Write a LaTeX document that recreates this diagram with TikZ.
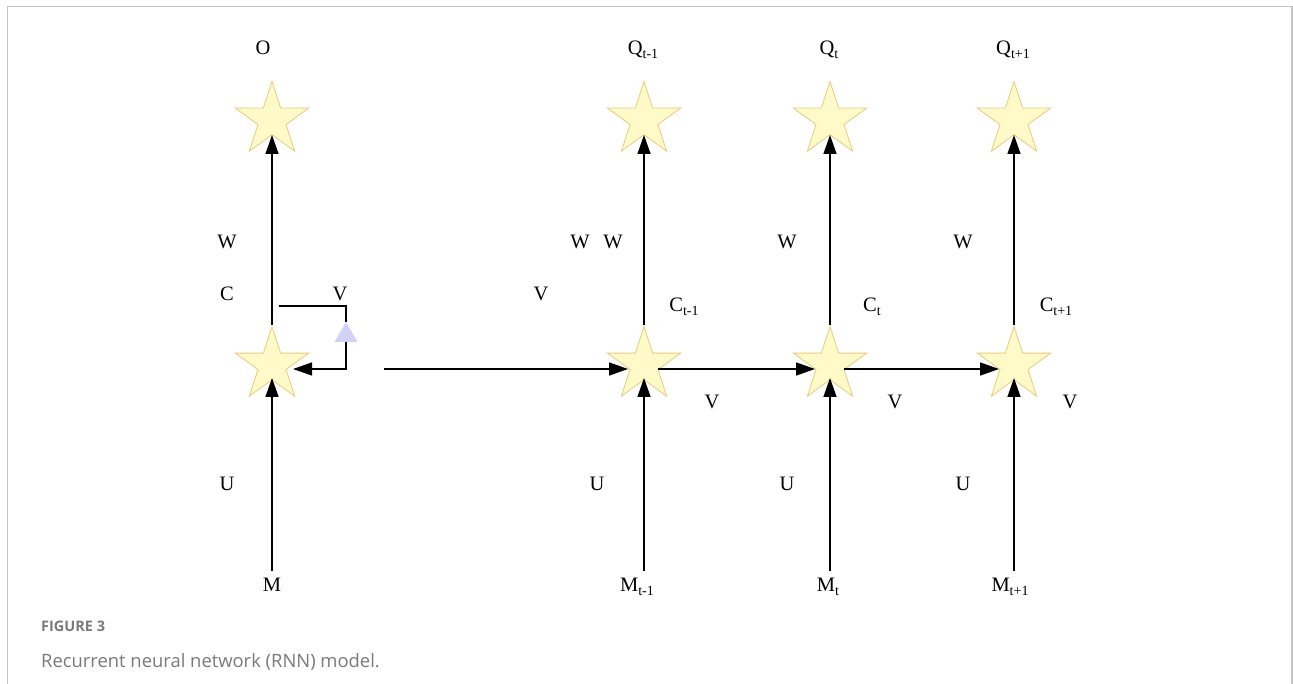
\documentclass[tikz,border=0pt]{standalone}
\usepackage{fontspec}
\setmainfont{Liberation Serif}
\newfontfamily\capfont{Open Sans}
\usetikzlibrary{shapes.geometric,arrows.meta}

\definecolor{starfill}{HTML}{FFFAC8}
\definecolor{stardraw}{HTML}{EBCB7A}
\definecolor{trifill}{HTML}{D2D2F7}
\definecolor{framegray}{HTML}{C4C4C4}
\definecolor{capgray}{HTML}{7A7A7A}

% lowered, smaller index text
\newcommand\lowidx[1]{\raisebox{-0.22em}{\fontsize{14}{14}\selectfont #1}}

\tikzset{
  unit/.style={star, star points=5, star point ratio=2.618, minimum size=77pt,
    inner sep=0pt, fill=starfill, draw=stardraw, line width=0.8pt},
  gate/.style={regular polygon, regular polygon sides=3, minimum size=26.5pt,
    inner sep=0pt, fill=trifill, draw=none},
  lbl/.style={font=\fontsize{20.5}{22}\selectfont, inner sep=0pt},
  link/.style={line width=1.4pt, -{Triangle[length=19pt,width=13pt]}},
  wire/.style={line width=1.4pt},
}

\begin{document}
\begin{tikzpicture}[x=1pt,y=-1pt]
\useasboundingbox (0,0) rectangle (1293,684);
\fill[white] (0,0) rectangle (1293,684);
\draw[framegray, line width=1.5pt] (7.5,684) |- (1292,6.5) -- (1292,684);

% output units
\node[unit] (s0) at (272,120) {};
\node[unit] (s1) at (644,120) {};
\node[unit] (s2) at (830,120) {};
\node[unit] (s3) at (1014,120) {};
% hidden units
\node[unit] (c0) at (272,365) {};
\node[unit] (c1) at (644,365) {};
\node[unit] (c2) at (830,365) {};
\node[unit] (c3) at (1014,365) {};

% recurrent gate on the folded network
\node[gate] (tri) at (346,335.3) {};

% labels
\node[lbl] (lo) at (263,48) {O};
\node[lbl] (lq1) at (643,50) {Q\lowidx{t-1}};
\node[lbl] (lq2) at (829,50) {Q\lowidx{t}};
\node[lbl] (lq3) at (1013,50) {Q\lowidx{t+1}};

\node[lbl] (w0) at (227,242) {W};
\node[lbl] (w1a) at (580,242) {W};
\node[lbl] (w1) at (613,242) {W};
\node[lbl] (w2) at (787,242) {W};
\node[lbl] (w3) at (963,242) {W};

\node[lbl] (lc) at (227,294) {C};
\node[lbl] (lv0) at (340,294) {V};
\node[lbl] (lva) at (541,294) {V};
\node[lbl] (lc1) at (684,307) {C\lowidx{t-1}};
\node[lbl] (lc2) at (872,307) {C\lowidx{t}};
\node[lbl] (lc3) at (1056,307) {C\lowidx{t+1}};

\node[lbl] (lv1) at (712,402) {V};
\node[lbl] (lv2) at (895,402) {V};
\node[lbl] (lv3) at (1070,402) {V};

\node[lbl] (u0) at (227,484) {U};
\node[lbl] (u1) at (597,484) {U};
\node[lbl] (u2) at (787,484) {U};
\node[lbl] (u3) at (963,484) {U};

\node[lbl] (m0) at (272,585) {M};
\node[lbl] (m1) at (637,587) {M\lowidx{t-1}};
\node[lbl] (m2) at (828,587) {M\lowidx{t}};
\node[lbl] (m3) at (1010,587) {M\lowidx{t+1}};

% free ends
\coordinate (loopin) at (279,306);
\coordinate (hstart) at (384,369);
\coordinate (b0) at (272,571);
\coordinate (b1) at (644,571);
\coordinate (b2) at (830,571);
\coordinate (b3) at (1014,571);

% input arrows
\draw[link] (b0) -- ([yshift=-13pt]c0.center);
\draw[link] (b1) -- ([yshift=-13pt]c1.center);
\draw[link] (b2) -- ([yshift=-13pt]c2.center);
\draw[link] (b3) -- ([yshift=-13pt]c3.center);

% output arrows
\draw[link] (c0.north) -- ([yshift=-15pt]s0.center);
\draw[link] (c1.north) -- ([yshift=-15pt]s1.center);
\draw[link] (c2.north) -- ([yshift=-15pt]s2.center);
\draw[link] (c3.north) -- ([yshift=-15pt]s3.center);

% self loop
\draw[wire] (loopin) -| (tri.corner 1);
\draw[link] (tri.side 2) |- ([shift={(21pt,-4pt)}]c0.center);

% unrolled recurrence
\draw[link] (hstart) -- ([shift={(-16pt,-4pt)}]c1.center);
\draw[link] ([shift={(14pt,-4pt)}]c1.center) -- ([shift={(-15pt,-4pt)}]c2.center);
\draw[link] ([shift={(14pt,-4pt)}]c2.center) -- ([shift={(-15pt,-4pt)}]c3.center);

% caption
\node[anchor=base west, inner sep=0pt, text=capgray, font=\capfont\bfseries\fontsize{14.5}{16}\selectfont] (fig) at (41,631) {FIGURE 3};
\node[anchor=base west, inner sep=0pt, text=capgray, font=\capfont\fontsize{18.4}{21}\selectfont] (cap) at (41,667) {Recurrent neural network (RNN) model.};
\end{tikzpicture}
\end{document}
